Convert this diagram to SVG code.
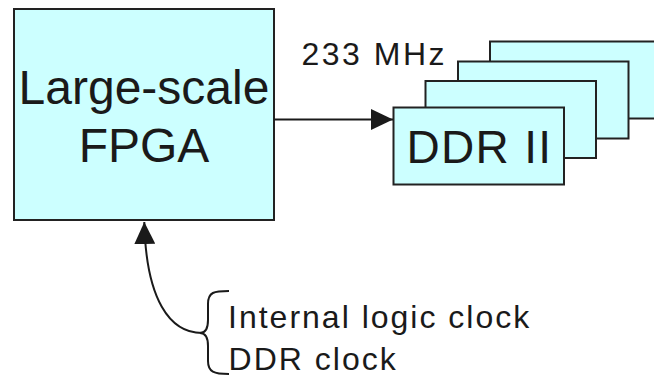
<svg xmlns="http://www.w3.org/2000/svg" width="654" height="376" viewBox="0 0 654 376">
  <style>
    .box { fill: #ccffff; stroke: #222222; stroke-width: 2; }
    .lbl { font-family: "Liberation Sans", Arial, sans-serif; fill: #1a1a1a; }
    .big { font-size: 48px; }
    .mid { font-size: 46px; letter-spacing: 1.3px; }
    .small { font-size: 32px; letter-spacing: 2px; }
    .conn { fill: none; stroke: #1a1a1a; stroke-width: 2; }
  </style>
  <defs>
    <marker id="arrow" markerUnits="userSpaceOnUse" markerWidth="22" markerHeight="21" refX="22" refY="10.5" orient="auto" viewBox="0 0 22 21">
      <path d="M0,0 L22,10.5 L0,21 z" fill="#1a1a1a"/>
    </marker>
  </defs>
  <rect width="654" height="376" fill="#ffffff"/>

  <g id="fpga">
    <rect class="box" x="14" y="9" width="260" height="211"/>
    <text class="lbl big" x="144" y="103.5" text-anchor="middle">Large-scale</text>
    <text class="lbl big" x="144" y="161.7" text-anchor="middle">FPGA</text>
  </g>

  <g id="ddr4">
    <rect class="box" x="490" y="41.5" width="171" height="77"/>
  </g>
  <g id="ddr3">
    <rect class="box" x="458" y="61.5" width="170.5" height="77"/>
  </g>
  <g id="ddr2">
    <rect class="box" x="425.5" y="81" width="170.5" height="77"/>
  </g>
  <g id="ddr1">
    <rect class="box" x="393.5" y="107.5" width="170.5" height="77"/>
    <text class="lbl mid" x="406.5" y="163.3">DDR II</text>
  </g>

  <g id="freq-label">
    <text class="lbl small" x="301.5" y="65" style="letter-spacing:2.5px">233 MHz</text>
  </g>

  <g id="clock-labels">
    <path class="conn" d="M229,291 C214,291 208,292 208,304 L208,320 C208,330 205,333 200,333 C205,333 208,336 208,346 L208,361 C208,372 214,374 229,374"/>
    <text class="lbl small" x="228" y="327.5">Internal logic clock</text>
    <text class="lbl small" x="228.6" y="369.5">DDR clock</text>
  </g>

  <g id="connectors">
    <path class="conn" d="M274,119.5 L393,119.5" marker-end="url(#arrow)"/>
    <path class="conn" d="M202,333 C170,333 146,300 144.3,222" marker-end="url(#arrow)"/>
  </g>
</svg>
